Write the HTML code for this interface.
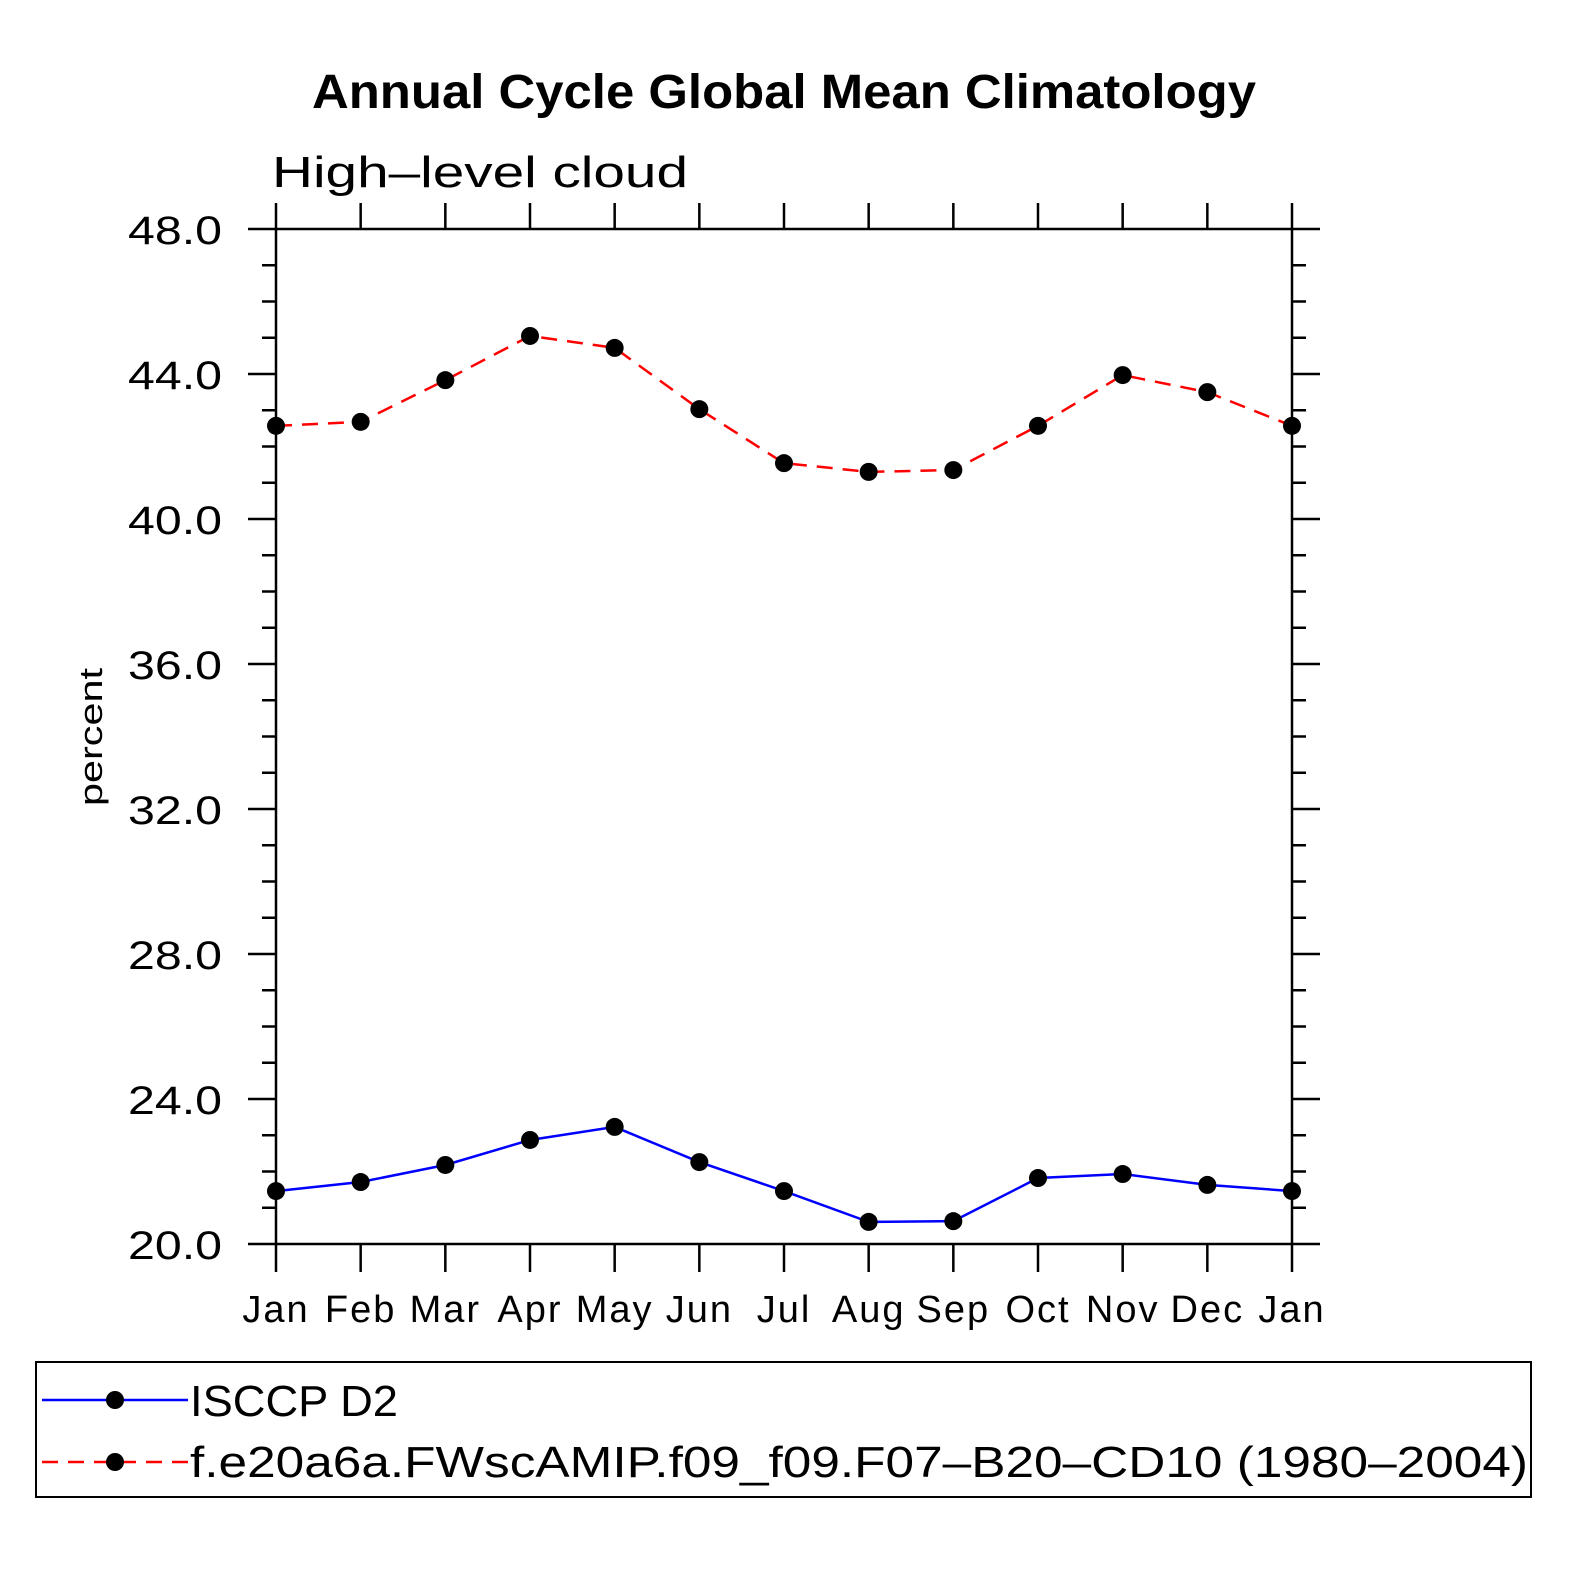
<!DOCTYPE html>
<html><head><meta charset="utf-8"><style>
body{margin:0;background:#fff}
svg text{font-family:"Liberation Sans",sans-serif}
</style></head><body>
<svg id="chart" width="1574" height="1574" viewBox="0 0 1574 1574" xmlns="http://www.w3.org/2000/svg">
<rect width="1574" height="1574" fill="#fff"/>
<text x="312" y="108" font-size="48" font-weight="bold" textLength="944" lengthAdjust="spacingAndGlyphs">Annual Cycle Global Mean Climatology</text>
<text x="272" y="187" font-size="44" textLength="416" lengthAdjust="spacingAndGlyphs">High–level cloud</text>
<text transform="translate(102,806) rotate(-90)" font-size="32" textLength="138" lengthAdjust="spacingAndGlyphs">percent</text>
<g id="axes"></g>
<g id="series"></g>
<rect x="36" y="1362" width="1495" height="135" fill="none" stroke="#000" stroke-width="2"/>
<g>
<line x1="42" y1="1400" x2="188" y2="1400" stroke="#00f" stroke-width="2.5"/>
<circle cx="115" cy="1400" r="9" fill="#000"/>
<text x="190" y="1416" font-size="44" textLength="208" lengthAdjust="spacingAndGlyphs">ISCCP D2</text>
</g>
<g>
<line x1="42" y1="1462" x2="188" y2="1462" stroke="#f00" stroke-width="2.5" stroke-dasharray="16,10"/>
<circle cx="115" cy="1462" r="9" fill="#000"/>
<text x="190" y="1477" font-size="44" textLength="1338" lengthAdjust="spacingAndGlyphs">f.e20a6a.FWscAMIP.f09_f09.F07–B20–CD10 (1980–2004)</text>
</g>
</svg>
<script>
const months = ["Jan","Feb","Mar","Apr","May","Jun","Jul","Aug","Sep","Oct","Nov","Dec","Jan"];
const isccpValues = [21.46,21.71,22.18,22.87,23.23,22.26,21.46,20.61,20.63,21.82,21.93,21.63,21.46];
const modelValues = [42.57,42.68,43.83,45.05,44.72,43.03,41.54,41.30,41.35,42.57,43.97,43.50,42.57];
const yTicks = [20,24,28,32,36,40,44,48];
const yTickLabels = ["20.0","24.0","28.0","32.0","36.0","40.0","44.0","48.0"];

const NS="http://www.w3.org/2000/svg";
const X0=276,X1=1292,Y0=1244,Y1=229,YMIN=20,YMAX=48;
const xs=i=>X0+(X1-X0)*i/(months.length-1);
const ys=v=>Y0-(Y0-Y1)*(v-YMIN)/(YMAX-YMIN);
function mk(tag,attrs,parent){const e=document.createElementNS(NS,tag);for(const k in attrs)e.setAttribute(k,attrs[k]);parent.appendChild(e);return e;}
const axes=document.getElementById('axes'),series=document.getElementById('series');
const frame=mk('rect',{x:X0,y:Y1,width:X1-X0,height:Y0-Y1,fill:'none',stroke:'#000','stroke-width':2.5},axes);


const L={stroke:'#000','stroke-width':2.5};
for(let v=YMIN;v<=YMAX;v++){
  const y=ys(v),major=(v%4===0),len=major?28:14;
  mk('line',Object.assign({x1:X0-len,y1:y,x2:X0,y2:y},L),axes);
  mk('line',Object.assign({x1:X1,y1:y,x2:X1+len,y2:y},L),axes);
}
yTicks.forEach((v,i)=>{
  const t=mk('text',{x:128,y:ys(v)+15,'font-size':40,textLength:94,lengthAdjust:'spacingAndGlyphs'},axes);
  t.textContent=yTickLabels[i];
  
  
});
months.forEach((m,i)=>{
  const x=xs(i);
  mk('line',Object.assign({x1:x,y1:Y0,x2:x,y2:Y0+28},L),axes);
  mk('line',Object.assign({x1:x,y1:Y1-26,x2:x,y2:Y1},L),axes);
  const t=mk('text',{x:x,y:1322,'text-anchor':'middle','font-size':38,'letter-spacing':2},axes);
  t.textContent=m;
  
  
});
function drawSeries(vals,color,dash,name){
  const p=mk('polyline',{points:vals.map((v,i)=>xs(i)+','+ys(v)).join(' '),fill:'none',stroke:color,'stroke-width':2.5,'stroke-dasharray':dash},series);
  
  
  vals.forEach((v,i)=>{
    const c=mk('circle',{cx:xs(i),cy:ys(v),r:9,fill:'#000'},series);
    
    
  });
}
drawSeries(modelValues,'#f00','16,10','model');
drawSeries(isccpValues,'#00f','none','isccp');
</script>
</body></html>
